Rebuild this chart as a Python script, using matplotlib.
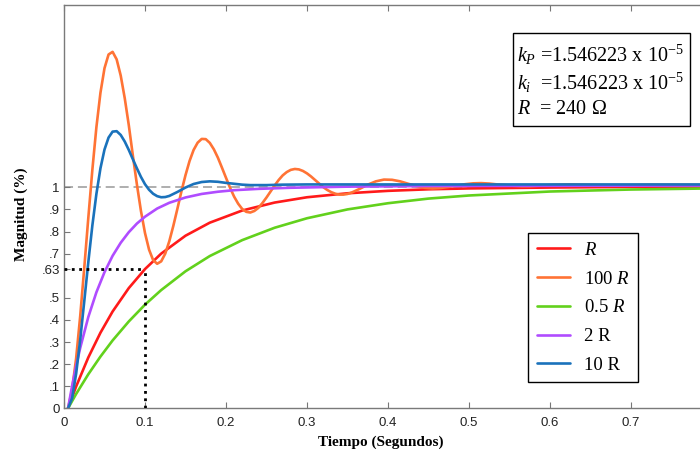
import matplotlib
matplotlib.use('Agg')
import matplotlib.pyplot as plt
from matplotlib.patches import Rectangle
from matplotlib.font_manager import FontProperties

# ---------------- data ----------------
t_R = [0.005, 0.015, 0.03, 0.045, 0.06, 0.08, 0.10, 0.12, 0.15, 0.18, 0.22, 0.26,
       0.30, 0.35, 0.40, 0.45, 0.50, 0.60, 0.70, 0.80]
y_R = [0.0, 0.099, 0.230, 0.342, 0.438, 0.544, 0.630, 0.700, 0.781, 0.840, 0.895, 0.931,
       0.955, 0.973, 0.984, 0.991, 0.995, 0.999, 1.002, 1.003]

t_100R = [0.005, 0.010, 0.015, 0.020, 0.025, 0.030, 0.035, 0.040, 0.045, 0.050,
          0.055, 0.060, 0.065, 0.070, 0.075, 0.080, 0.085, 0.090, 0.095, 0.100,
          0.105, 0.110, 0.115, 0.120, 0.125, 0.130, 0.135, 0.140, 0.145, 0.150,
          0.155, 0.160, 0.165, 0.170, 0.175, 0.180, 0.185, 0.190, 0.195, 0.200,
          0.205, 0.210, 0.215, 0.220, 0.225, 0.230, 0.235, 0.240, 0.245, 0.250,
          0.255, 0.260, 0.265, 0.270, 0.275, 0.280, 0.285, 0.290, 0.295, 0.300,
          0.305, 0.310, 0.315, 0.320, 0.325, 0.330, 0.335, 0.340, 0.345, 0.350,
          0.355, 0.365, 0.375, 0.385, 0.395, 0.405, 0.415, 0.425, 0.435, 0.445,
          0.455, 0.465, 0.475, 0.485, 0.495, 0.505, 0.515, 0.525, 0.535, 0.545,
          0.555, 0.565, 0.575, 0.585, 0.595, 0.605, 0.625, 0.655, 0.685, 0.725, 0.80]
y_100R = [0.0, 0.083, 0.227, 0.417, 0.635, 0.861, 1.079, 1.272, 1.428, 1.539,
          1.601, 1.613, 1.579, 1.506, 1.403, 1.281, 1.144, 1.013, 0.893, 0.793,
          0.718, 0.671, 0.654, 0.665, 0.700, 0.756, 0.826, 0.903, 0.982, 1.055,
          1.119, 1.169, 1.202, 1.219, 1.218, 1.201, 1.172, 1.134, 1.089, 1.043,
          0.998, 0.958, 0.926, 0.902, 0.889, 0.886, 0.893, 0.907, 0.929, 0.954,
          0.981, 1.008, 1.033, 1.054, 1.069, 1.079, 1.083, 1.081, 1.074, 1.063,
          1.049, 1.033, 1.017, 1.001, 0.988, 0.978, 0.971, 0.967, 0.967, 0.970,
          0.976, 0.993, 1.012, 1.027, 1.035, 1.034, 1.027, 1.016, 1.006, 0.998,
          0.995, 0.997, 1.002, 1.008, 1.014, 1.018, 1.019, 1.017, 1.013, 1.010,
          1.007, 1.005, 1.005, 1.007, 1.009, 1.011, 1.013, 1.010, 1.008, 1.011, 1.010]

t_05R = [0.005, 0.015, 0.03, 0.045, 0.06, 0.08, 0.10, 0.12, 0.15, 0.18, 0.22, 0.26,
         0.30, 0.35, 0.40, 0.45, 0.50, 0.60, 0.70, 0.80]
y_05R = [0.0, 0.065, 0.154, 0.234, 0.307, 0.393, 0.469, 0.535, 0.620, 0.689, 0.761, 0.817,
         0.860, 0.900, 0.928, 0.949, 0.963, 0.981, 0.990, 0.995]

t_2R = [0.005, 0.010, 0.015, 0.020, 0.030, 0.040, 0.050, 0.060, 0.070, 0.080, 0.090,
        0.100, 0.115, 0.130, 0.150, 0.170, 0.190, 0.210, 0.240, 0.280, 0.350, 0.450, 0.80]
y_2R = [0.0, 0.101, 0.192, 0.273, 0.413, 0.525, 0.616, 0.690, 0.749, 0.797, 0.836,
        0.867, 0.904, 0.930, 0.954, 0.970, 0.980, 0.987, 0.993, 0.998, 1.003, 1.006, 1.008]

t_10R = [0.005, 0.010, 0.015, 0.020, 0.025, 0.030, 0.035, 0.040, 0.045, 0.050,
         0.055, 0.060, 0.065, 0.070, 0.075, 0.080, 0.085, 0.090, 0.095, 0.100,
         0.105, 0.110, 0.115, 0.120, 0.125, 0.130, 0.140, 0.150, 0.160, 0.170,
         0.180, 0.190, 0.200, 0.210, 0.220, 0.230, 0.240, 0.250, 0.270, 0.300, 0.80]
y_10R = [0.0, 0.045, 0.157, 0.310, 0.484, 0.661, 0.827, 0.970, 1.086, 1.171,
         1.225, 1.252, 1.254, 1.237, 1.207, 1.169, 1.127, 1.086, 1.047, 1.014,
         0.989, 0.971, 0.960, 0.955, 0.956, 0.961, 0.979, 0.999, 1.015, 1.024,
         1.027, 1.025, 1.020, 1.016, 1.012, 1.010, 1.010, 1.010, 1.012, 1.013, 1.013]

series_labels = ['$R$', '100 $R$', '0.5 $R$', '2 R', '10 R']
series_colors = ['#ff1a1a', '#ff7335', '#62d11c', '#b04cff', '#1a72bb']

x_ticks = [0, 0.1, 0.2, 0.3, 0.4, 0.5, 0.6, 0.7]
x_ticklabels = ['0', '0.1', '0.2', '0.3', '0.4', '0.5', '0.6', '0.7']
y_ticks = [0, 0.1, 0.2, 0.3, 0.4, 0.5, 0.63, 0.7, 0.8, 0.9, 1.0]
y_ticklabels = ['0', '.1', '.2', '.3', '.4', '.5', '.63', '.7', '.8', '.9', '1']

tau_t = 0.1
tau_y = 0.63
ref_level = 1.0

# ---------------- styling ----------------
plt.rcParams['font.family'] = ['Liberation Sans', 'DejaVu Sans']
plt.rcParams['mathtext.fontset'] = 'custom'
plt.rcParams['mathtext.rm'] = 'Liberation Serif'
plt.rcParams['mathtext.it'] = 'Liberation Serif:italic'
plt.rcParams['mathtext.bf'] = 'Liberation Serif:bold'

W, H = 700, 454
fig = plt.figure(figsize=(W / 100, H / 100), dpi=100)
ax = fig.add_axes([64 / W, (H - 408.3) / H, 648 / W, (408.3 - 5) / H])
ax.set_xlim(0, 0.8)
ax.set_ylim(0, 1.825)

# reference line at 1
ax.axhline(ref_level, color='#a8a8a8', lw=1.3, ls=(0, (5, 2.7)), zorder=1)

series = [(t_R, y_R), (t_100R, y_100R), (t_05R, y_05R), (t_2R, y_2R), (t_10R, y_10R)]
handles = []
for (tt, yy), lab, col in zip(series, series_labels, series_colors):
    h, = ax.plot(tt, yy, color=col, lw=1.9, label=lab, zorder=2, solid_capstyle='round')
    handles.append(h)

# time-constant marker
ax.plot([0, tau_t], [tau_y, tau_y], color='black', lw=2.0, ls=':', zorder=4)
ax.plot([tau_t, tau_t], [0, tau_y], color='black', lw=2.0, ls=':', zorder=4)

ax.set_xticks(x_ticks)
ax.set_xticklabels(x_ticklabels)
ax.set_yticks(y_ticks)
ax.set_yticklabels(y_ticklabels)
ax.tick_params(axis='both', direction='in', length=4, width=0.8, color='#777777',
               labelsize=9.5, labelcolor='#222222')
ax.tick_params(axis='x', top=True, pad=6.5)
ax.tick_params(axis='y', right=False, pad=3)
for s in ['left', 'bottom', 'top']:
    ax.spines[s].set_color('#7a7a7a')
    ax.spines[s].set_linewidth(1.0)
ax.spines['right'].set_visible(False)

# axis labels
fig.text(381 / W, 1 - 442 / H, 'Tiempo (Segundos)', ha='center', va='center',
         family='Liberation Serif', weight='bold', size=11)
fig.text(21 / W, 1 - 214 / H, 'Magnitud (%)', ha='center', va='center', rotation=90,
         family='Liberation Serif', weight='bold', size=11)

# legend
leg = ax.legend(handles, series_labels, loc='upper left',
                bbox_to_anchor=(528.3 / W, 1 - 233.3 / H), bbox_transform=fig.transFigure,
                frameon=True, fancybox=False, edgecolor='black', framealpha=1,
                borderaxespad=0, prop=FontProperties(family='Liberation Serif', size=13.5),
                handlelength=1.75, handletextpad=0.75, labelspacing=0.62, borderpad=0.45)
leg.get_frame().set_linewidth(1.0)

# parameter box
fig.add_artist(Rectangle((512.7 / W, 1 - 126 / H), (690 - 512.7) / W, (126 - 33.3) / H,
                         transform=fig.transFigure, fill=False, edgecolor='black', lw=1.0))
box_lines = ['$k_P$ =1.546223 x 10$^{-5}$', '$k_i$  =1.546223 x 10$^{-5}$', '$R$  = 240 Ω']
for i, s in enumerate(box_lines):
    fig.text(517 / W, 1 - (55 + 27.5 * i) / H, s, ha='left', va='center',
             family='Liberation Serif', size=14.5)

fig.savefig('out.png', dpi=100)
